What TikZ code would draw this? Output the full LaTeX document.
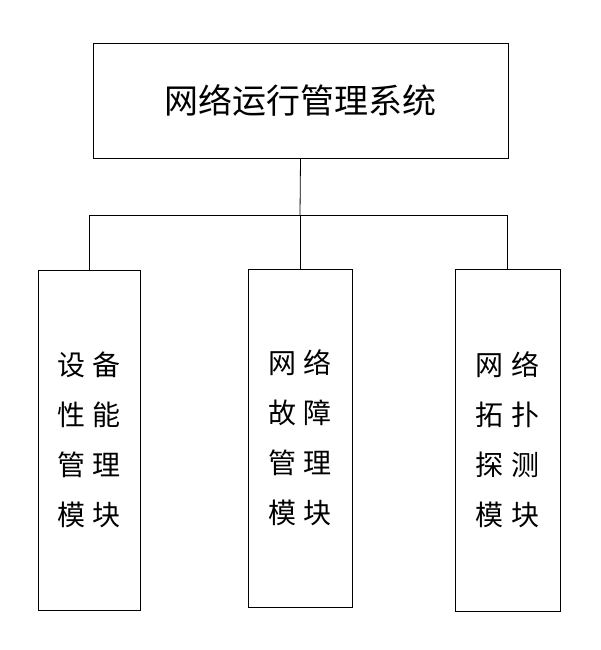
\documentclass[tikz,border=0pt]{standalone}
\usepackage{fontspec}
\newfontfamily\cjk{Noto Sans CJK SC}
\begin{document}
\begin{tikzpicture}[x=1pt,y=-1pt,
  box/.style={draw,line width=0.8pt,inner sep=0pt},
  lbl/.style={font=\cjk\fontsize{28}{50}\selectfont,align=center},
  link/.style={line width=0.8pt}]
  \useasboundingbox (0,0) rectangle (600,650);
  %top box
  \node[box,minimum width=415,minimum height=115] (top) at (300.5,100.5) {};
  \node[lbl,font=\cjk\fontsize{34}{40}\selectfont] (toplbl) at (top.center) {网络运行管理系统};
  %modules
  \node[box,minimum width=102,minimum height=340] (m1) at (89,440) {};
  \node[box,minimum width=104,minimum height=338] (m2) at (300,438) {};
  \node[box,minimum width=105,minimum height=342] (m3) at (507.5,440) {};
  \node[lbl] at (m1.center) {设\hspace{8pt}备\\性\hspace{8pt}能\\管\hspace{8pt}理\\模\hspace{8pt}块};
  \node[lbl] at (m2.center) {网\hspace{8pt}络\\故\hspace{8pt}障\\管\hspace{8pt}理\\模\hspace{8pt}块};
  \node[lbl] at (m3.center) {网\hspace{8pt}络\\拓\hspace{8pt}扑\\探\hspace{8pt}测\\模\hspace{8pt}块};
  %connectors
  \coordinate (bus) at (300,215);
  \draw[link] (top.south) -- (bus);
  \draw[link] (m1.north) -- (m1.north |- bus) -- (m3.north |- bus) -- (m3.north);
  \draw[link] (bus) -- (m2.north);
\end{tikzpicture}
\end{document}
